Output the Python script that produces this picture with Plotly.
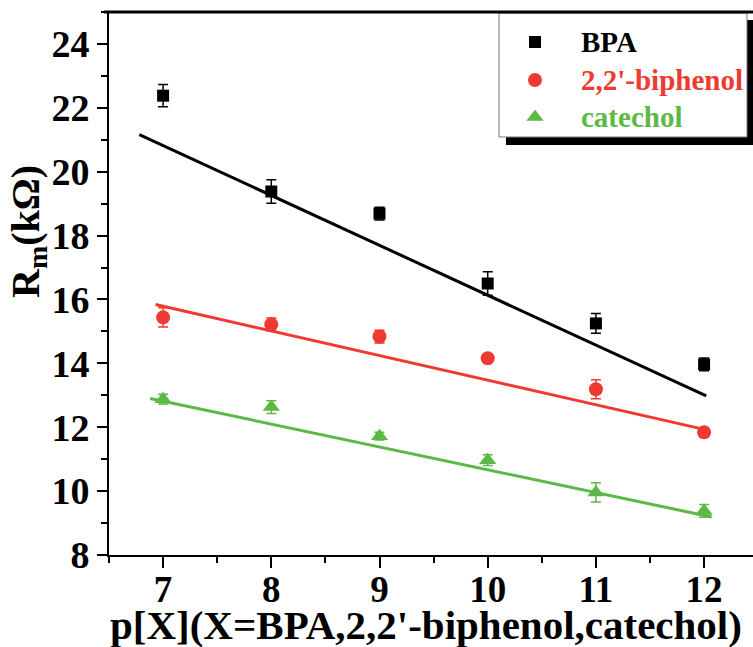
import plotly.graph_objects as go

# ---- data ----
x_vals = [7, 8, 9, 10, 11, 12]
bpa = [22.38, 19.38, 18.69, 16.50, 15.25, 13.97]
bpa_err = [0.35, 0.37, 0.20, 0.37, 0.31, 0.20]
biphenol = [15.44, 15.22, 14.84, 14.16, 13.19, 11.84]
biphenol_err = [0.30, 0.20, 0.20, 0.05, 0.30, 0.15]
catechol = [12.88, 12.63, 11.72, 10.97, 9.96, 9.38]
catechol_err = [0.15, 0.20, 0.12, 0.17, 0.30, 0.20]

fit_bpa_x = [6.78, 12.02]
fit_bpa_y = [21.16, 12.98]
fit_biphenol_x = [6.93, 11.99]
fit_biphenol_y = [15.84, 11.94]
fit_catechol_x = [6.88, 12.07]
fit_catechol_y = [12.90, 9.19]

series_names = ["BPA", "2,2'-biphenol", "catechol"]
x_ticks = [7, 8, 9, 10, 11, 12]
y_ticks = [8, 10, 12, 14, 16, 18, 20, 22, 24]

# ---- styling ----
BLACK = "#000000"
RED = "#EE3A30"
GREEN = "#5DB946"
FONT = "Liberation Serif"

W, H = 753, 647
L, R, T, B = 109, 0, 12, 92
PW, PH = W - L - R, H - T - B
X_RANGE = [6.5, 6.5 + PW / 108.2]
Y_RANGE = [8, 25]


def px(X):
    return (X - L) / PW


def py(Y):
    return (H - B - Y) / PH


def dx(X):
    return X_RANGE[0] + px(X) * (X_RANGE[1] - X_RANGE[0])


def dy(Y):
    return Y_RANGE[0] + py(Y) * (Y_RANGE[1] - Y_RANGE[0])


fig = go.Figure()

specs = [
    (bpa, bpa_err, fit_bpa_x, fit_bpa_y, BLACK, "square", 12),
    (biphenol, biphenol_err, fit_biphenol_x, fit_biphenol_y, RED, "circle", 14),
    (catechol, catechol_err, fit_catechol_x, fit_catechol_y, GREEN, "triangle-up", 15),
]

for (vals, errs, fx, fy, col, sym, sz), name in zip(specs, series_names):
    fig.add_trace(go.Scatter(
        x=fx, y=fy, mode="lines", line=dict(color=col, width=3),
        showlegend=False, hoverinfo="skip"))
    fig.add_trace(go.Scatter(
        x=x_vals, y=vals, mode="markers", name=name,
        marker=dict(symbol=sym, size=sz, color=col, line=dict(width=0)),
        error_y=dict(type="data", array=errs, visible=True, color=col,
                     thickness=1.5, width=5),
        showlegend=False, cliponaxis=False))

# ---- custom legend ----
leg_rows = [42, 80, 117]
leg_syms = ["square", "circle", "triangle-up"]
leg_cols = [BLACK, RED, GREEN]
leg_sizes = [12, 14, 15]
fig.add_trace(go.Scatter(
    x=[dx(535)] * 3, y=[dy(r) for r in leg_rows], mode="markers",
    marker=dict(symbol=leg_syms, size=leg_sizes, color=leg_cols, opacity=1,
                line=dict(width=0)),
    showlegend=False, hoverinfo="skip", cliponaxis=False))

shapes = [
    # shadow
    dict(type="rect", xref="paper", yref="paper", x0=px(506), x1=px(756),
         y0=py(145), y1=py(20), fillcolor=BLACK, line=dict(width=0), layer="below"),
    # box
    dict(type="rect", xref="paper", yref="paper", x0=px(499), x1=px(747),
         y0=py(137), y1=py(13), fillcolor="white",
         line=dict(color="#777777", width=1), layer="below"),
    # top frame line
    dict(type="line", xref="paper", yref="paper", x0=px(104), x1=1.0,
         y0=1, y1=1, line=dict(color=BLACK, width=3), layer="above"),
]

annotations = []
for name, col, r in zip(series_names, leg_cols, leg_rows):
    annotations.append(dict(
        x=px(579), y=py(r), xref="paper", yref="paper", text="<b>%s</b>" % name,
        showarrow=False, xanchor="left", yanchor="middle",
        font=dict(family=FONT, size=29, color=col)))

annotations.append(dict(
    x=px(28), y=py(232), xref="paper", yref="paper",
    text="<b>R<sub>m</sub>(kΩ)</b>", textangle=-90, showarrow=False,
    xanchor="center", yanchor="middle",
    font=dict(family=FONT, size=40, color=BLACK)))

annotations.append(dict(
    x=px(426), y=py(625), xref="paper", yref="paper",
    text="<b>p[X](X=BPA,2,2'-biphenol,catechol)</b>", showarrow=False,
    xanchor="center", yanchor="middle",
    font=dict(family=FONT, size=41, color=BLACK)))

fig.update_layout(
    width=W, height=H,
    margin=dict(l=L, r=R, t=T, b=B, pad=0),
    paper_bgcolor="white", plot_bgcolor="white",
    showlegend=False,
    font=dict(family=FONT, color=BLACK),
    shapes=shapes, annotations=annotations,
    xaxis=dict(
        range=X_RANGE, tickvals=x_ticks,
        ticktext=["<b>%d</b>" % v for v in x_ticks],
        ticks="outside", ticklen=11, tickwidth=2, tickcolor=BLACK,
        ticklabelstandoff=-10,
        showline=True, linewidth=2, linecolor=BLACK, showgrid=False, zeroline=False,
        tickfont=dict(family=FONT, size=37, color=BLACK),
        minor=dict(dtick=0.5, tick0=6.5, ticks="outside", ticklen=6, tickwidth=2,
                   tickcolor=BLACK, showgrid=False),
    ),
    yaxis=dict(
        range=Y_RANGE, tickvals=y_ticks,
        ticktext=["<b>%d</b>" % v for v in y_ticks],
        ticks="outside", ticklen=10, tickwidth=2, tickcolor=BLACK,
        showline=True, linewidth=2, linecolor=BLACK, showgrid=False, zeroline=False,
        tickfont=dict(family=FONT, size=38, color=BLACK),
        minor=dict(dtick=1, tick0=8, ticks="outside", ticklen=6, tickwidth=2,
                   tickcolor=BLACK, showgrid=False),
    ),
)

fig.write_html("out.html")
